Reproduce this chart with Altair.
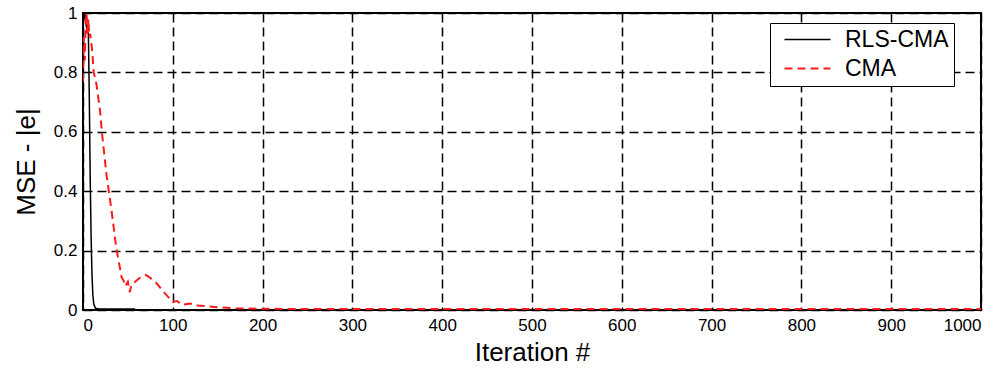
import altair as alt
import pandas as pd

# RLS-CMA curve
rls_iter = [0, 1, 2, 3, 4, 5, 6, 7, 8, 9, 10, 11, 12, 14, 20, 30, 40, 50, 58]
rls_val = [0.96, 0.99, 1.0, 0.97, 0.95, 0.94, 0.93, 0.72, 0.45, 0.25, 0.12, 0.05, 0.02, 0.005, 0.003, 0.003, 0.003, 0.003, 0.003]

# CMA curve
cma_iter = [0, 1, 2, 3, 4, 5, 6, 7, 8, 10, 12, 15, 19, 21, 26, 32, 37, 40, 43, 45, 47, 50, 52, 54, 56, 60, 64, 70, 74, 82, 91, 100, 105, 110, 119, 128, 140, 150, 170, 200, 300, 400, 500, 600, 700, 800, 900, 1000]
cma_val = [0.77, 0.92, 0.84, 0.97, 1.0, 0.93, 0.98, 0.92, 0.93, 0.88, 0.8, 0.76, 0.67, 0.6, 0.46, 0.33, 0.21, 0.16, 0.11, 0.1, 0.08, 0.095, 0.06, 0.085, 0.09, 0.1, 0.11, 0.118, 0.11, 0.09, 0.057, 0.027, 0.03, 0.017, 0.022, 0.015, 0.012, 0.009, 0.006, 0.004, 0.003, 0.003, 0.003, 0.003, 0.003, 0.003, 0.003, 0.003]

series_names = ["RLS-CMA", "CMA"]
x_ticks = [0, 100, 200, 300, 400, 500, 600, 700, 800, 900, 1000]
y_ticks = [0, 0.2, 0.4, 0.6, 0.8, 1.0]

df = pd.concat([
    pd.DataFrame({"iter": rls_iter, "val": rls_val, "series": series_names[0], "order": range(len(rls_iter))}),
    pd.DataFrame({"iter": cma_iter, "val": cma_val, "series": series_names[1], "order": range(len(cma_iter))}),
])

FONT = "Liberation Sans"
LBL = "datum.label + '\u00a0\u00a0\u00a0\u00a0'"

chart = alt.Chart(df).mark_line(clip=True).encode(
    x=alt.X("iter:Q", scale=alt.Scale(domain=[0, 1000], nice=False),
            axis=alt.Axis(values=x_ticks, format="d", title="Iteration #",
                          labelPadding=7, titlePadding=6)),
    y=alt.Y("val:Q", scale=alt.Scale(domain=[0, 1], nice=False),
            axis=alt.Axis(values=y_ticks, format=".1~f", title="MSE - |e|",
                          labelPadding=6, titlePadding=14)),
    color=alt.Color("series:N", scale=alt.Scale(domain=series_names, range=["#000000", "#ff1a1a"]),
                    legend=alt.Legend(title=None, labelExpr=LBL)),
    strokeDash=alt.StrokeDash("series:N", scale=alt.Scale(domain=series_names, range=[[1, 0], [8, 5]]),
                              legend=alt.Legend(title=None, labelExpr=LBL)),
    strokeWidth=alt.StrokeWidth("series:N", scale=alt.Scale(domain=series_names, range=[1.5, 2]), legend=None),
    order="order:Q",
).properties(
    width=898, height=297,
    autosize=alt.AutoSizeParams(type="none"),
    padding={"left": 83, "top": 13, "right": 24, "bottom": 62},
).configure_view(
    stroke="#000000", strokeWidth=2
).configure_axis(
    grid=True, gridColor="#000000", gridDash=[9, 5], gridWidth=1.5, gridOpacity=1,
    domain=False, ticks=False,
    labelFont=FONT, labelFontSize=17, labelColor="#000000",
    titleFont=FONT, titleFontSize=26, titleFontWeight="normal", titleColor="#000000",
).configure_legend(
    orient="none", legendX=687, legendY=10,
    fillColor="#ffffff", strokeColor="#000000", padding=5,
    symbolType="M-0.2,0H4.4", symbolSize=400, symbolStrokeWidth=1.5,
    labelFont=FONT, labelFontSize=23, labelColor="#000000", labelOffset=47,
    rowPadding=5, labelLimit=300,
)

chart.save("out.html", embed_options={"renderer": "svg", "actions": False})
